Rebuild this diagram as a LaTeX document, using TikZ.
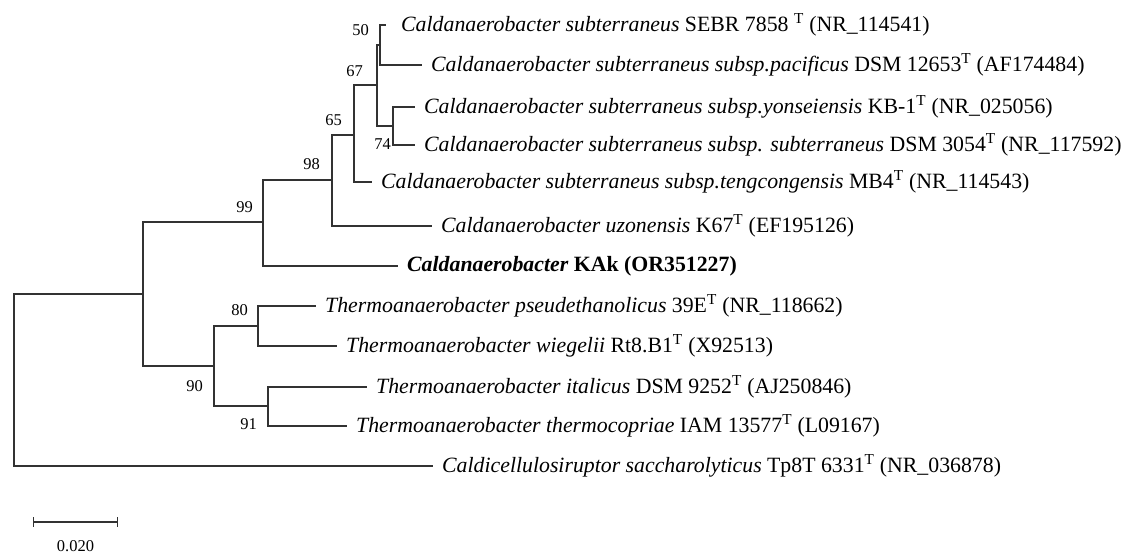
\documentclass[tikz,border=0pt]{standalone}
\usepackage{fontspec}
\setmainfont{Liberation Serif}
\usetikzlibrary{positioning}
\definecolor{BranchGray}{RGB}{50, 50, 50}

\tikzset{
  branch/.style={draw=BranchGray, line width=1.3pt},
  taxon/.style={anchor=west, inner sep=0pt, font=\fontsize{21.8}{26}\selectfont},
  boot/.style={inner sep=0pt, font=\fontsize{16.5}{19}\selectfont},
}

\begin{document}
\begin{tikzpicture}[x=1pt, y=-1pt]
  \useasboundingbox (0,0) rectangle (1127,554);

  % Internal nodes
  \coordinate (root) at (14,380);
  \coordinate (nA) at (143,294);
  \coordinate (n99) at (263,222);
  \coordinate (n98) at (332,180);
  \coordinate (n65) at (354,135);
  \coordinate (n67) at (377,85);
  \coordinate (n50) at (380,45);
  \coordinate (n74) at (393,126);
  \coordinate (n90) at (214,366);
  \coordinate (n80) at (258,326);
  \coordinate (n91) at (268,406);

  % Tips
  \coordinate (t1) at (386,25);
  \coordinate (t2) at (422,65);
  \coordinate (t3) at (415,107);
  \coordinate (t4) at (415,145);
  \coordinate (t5) at (372,182);
  \coordinate (t6) at (432,226);
  \coordinate (t7) at (398,266);
  \coordinate (t8) at (316,306);
  \coordinate (t9) at (337,346);
  \coordinate (t10) at (367,387);
  \coordinate (t11) at (347,426);
  \coordinate (t12) at (433,466);

  % Branches
  \foreach \p/\c in {root/nA, root/t12, nA/n99, nA/n90, n99/n98, n99/t7,
                     n98/n65, n98/t6, n65/n67, n65/t5, n67/n50, n67/n74,
                     n50/t1, n50/t2, n74/t3, n74/t4, n90/n80, n90/n91,
                     n80/t8, n80/t9, n91/t10, n91/t11} {
    \draw[branch] (\p) |- (\c);
  }

  % Taxa
  \node[taxon, right=15pt of t1] (l1) {\textit{Caldanaerobacter subterraneus} SEBR 7858 \textsuperscript{T} (NR\_114541)};
  \node[taxon, right=9pt of t2] (l2) {\textit{Caldanaerobacter subterraneus subsp.pacificus} DSM 12653\textsuperscript{T} (AF174484)};
  \node[taxon, right=9pt of t3] (l3) {\textit{Caldanaerobacter subterraneus subsp.yonseiensis} KB-1\textsuperscript{T} (NR\_025056)};
  \node[taxon, right=9pt of t4] (l4) {\textit{Caldanaerobacter subterraneus subsp. subterraneus} DSM 3054\textsuperscript{T} (NR\_117592)};
  \node[taxon, right=9pt of t5] (l5) {\textit{Caldanaerobacter subterraneus subsp.tengcongensis} MB4\textsuperscript{T} (NR\_114543)};
  \node[taxon, right=9pt of t6] (l6) {\textit{Caldanaerobacter uzonensis} K67\textsuperscript{T} (EF195126)};
  \node[taxon, right=9pt of t7] (l7) {\textbf{\textit{Caldanaerobacter} KAk (OR351227)}};
  \node[taxon, right=9pt of t8] (l8) {\textit{Thermoanaerobacter pseudethanolicus} 39E\textsuperscript{T} (NR\_118662)};
  \node[taxon, right=9pt of t9] (l9) {\textit{Thermoanaerobacter wiegelii} Rt8.B1\textsuperscript{T} (X92513)};
  \node[taxon, right=9pt of t10] (l10) {\textit{Thermoanaerobacter italicus} DSM 9252\textsuperscript{T} (AJ250846)};
  \node[taxon, right=9pt of t11] (l11) {\textit{Thermoanaerobacter thermocopriae} IAM 13577\textsuperscript{T} (L09167)};
  \node[taxon, right=9pt of t12] (l12) {\textit{Caldicellulosiruptor saccharolyticus} Tp8T 6331\textsuperscript{T} (NR\_036878)};

  % Bootstrap values
  \node[boot, above left=9pt and 11pt of n50] (b50) {50};
  \node[boot, above left=8pt and 14pt of n67] (b67) {67};
  \node[boot, above left=9pt and 12pt of n65] (b65) {65};
  \node[boot, above left=10pt and 12pt of n98] (b98) {98};
  \node[boot, above left=9pt and 10pt of n99] (b99) {99};
  \node[boot, below left=12pt and 2pt of n74] (b74) {74};
  \node[boot, above left=10pt and 10pt of n80] (b80) {80};
  \node[boot, below left=14pt and 11pt of n90] (b90) {90};
  \node[boot, below left=12pt and 11pt of n91] (b91) {91};

  % Scale bar
  \coordinate (sbL) at (33,522);
  \coordinate (sbR) at (118,522);
  \coordinate (sbM) at (75.5,522);
  \draw[branch, |-|] (sbL) -- (sbR);
  \node[boot, below=18pt of sbM] (sbText) {0.020};
\end{tikzpicture}
\end{document}
